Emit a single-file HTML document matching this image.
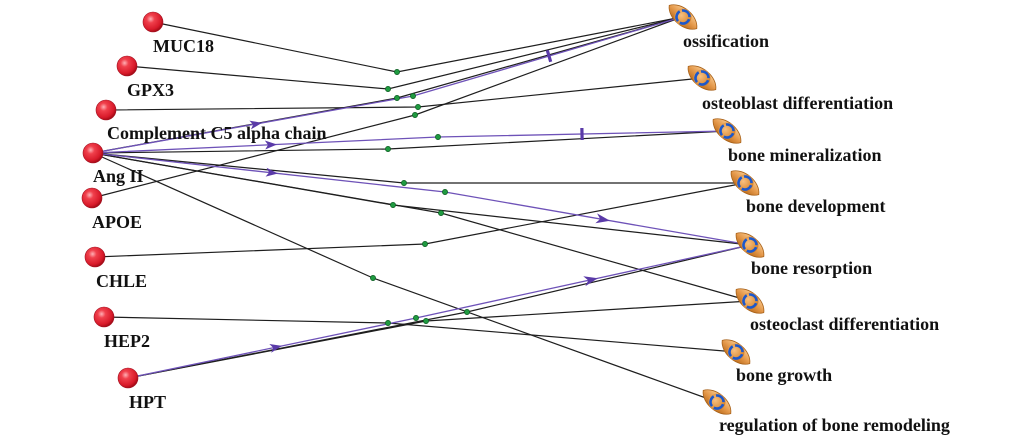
<!DOCTYPE html>
<html><head><meta charset="utf-8"><style>
html,body{margin:0;padding:0;background:#fff;}
svg{display:block;}
text{font-family:"Liberation Serif",serif;font-weight:bold;font-size:18px;fill:#111;}
</style></head><body>
<svg width="1033" height="443" viewBox="0 0 1033 443" xmlns="http://www.w3.org/2000/svg">
<defs>
<radialGradient id="sph" cx="38%" cy="35%" r="65%">
<stop offset="0" stop-color="#ffb0b5"/>
<stop offset="0.3" stop-color="#f0404c"/>
<stop offset="0.8" stop-color="#d81a2a"/>
<stop offset="1" stop-color="#a80c18"/>
</radialGradient>
<linearGradient id="spin" x1="0" y1="0" x2="0" y2="1">
<stop offset="0" stop-color="#f8c88c"/>
<stop offset="0.5" stop-color="#e4984a"/>
<stop offset="1" stop-color="#bc6c1c"/>
</linearGradient>
<radialGradient id="core" cx="40%" cy="40%" r="60%">
<stop offset="0" stop-color="#f8c080"/>
<stop offset="1" stop-color="#d8852c"/>
</radialGradient>
<g id="proc">
<path d="M-18,0 C-11,-11 11,-11 18,0 C11,11 -11,11 -18,0Z" transform="rotate(40)" fill="url(#spin)" stroke="#a8621a" stroke-width="0.8"/>
<circle r="8.5" fill="url(#core)"/>
<circle r="6.5" fill="none" stroke="#1c58cc" stroke-width="2.6" stroke-dasharray="11.2 2.4" transform="rotate(20)"/>
</g>
<g id="ball"><circle r="10" fill="url(#sph)" stroke="#a01020" stroke-width="0.6"/></g>
</defs>

<!-- black edges -->
<g fill="none" stroke="#1e1e1e" stroke-width="1.2">
<polyline points="153,22 397,72 682,17"/>
<polyline points="127,66 388,89 682,17"/>
<polyline points="106,110 418,107 702,78"/>
<polyline points="92,198 415,115 682,17"/>
<polyline points="93,153 397,98 682,17"/>
<polyline points="93,153 388,149 727,131"/>
<polyline points="93,153 404,183 745,183"/>
<polyline points="93,153 393,205 750,245"/>
<polyline points="93,153 441,213 750,301"/>
<polyline points="93,153 373,278 717,402"/>
<polyline points="95,257 425,244 745,183"/>
<polyline points="104,317 388,323 736,352"/>
<polyline points="128,378 426,321 750,301"/>
<polyline points="128,378 467,312 750,245"/>
</g>
<!-- purple edges -->
<g fill="none" stroke="#6e52b8" stroke-width="1.3">
<polyline points="93,153 413,96 682,17"/>
<polyline points="93,153 438,137 727,131"/>
<polyline points="93,153 445,192 750,245"/>
<polyline points="128,378 416,318 750,245"/>
</g>
<!-- arrowheads -->
<g fill="#5a3aa8">
<path transform="translate(262,122.9) rotate(-10.1)" d="M0,0 L-12,-4.5 L-9,0 L-12,4.5Z"/>
<path transform="translate(277,144.5) rotate(-2.66)" d="M0,0 L-12,-4.5 L-9,0 L-12,4.5Z"/>
<path transform="translate(278,173.5) rotate(6.32)" d="M0,0 L-12,-4.5 L-9,0 L-12,4.5Z"/>
<path transform="translate(610,220.7) rotate(9.86)" d="M0,0 L-14,-5 L-10,0 L-14,5Z"/>
<path transform="translate(282,345.9) rotate(-11.77)" d="M0,0 L-12,-4.5 L-9,0 L-12,4.5Z"/>
<path transform="translate(598,278.2) rotate(-12.33)" d="M0,0 L-14,-5 L-10,0 L-14,5Z"/>
<rect transform="translate(549,56.1) rotate(-16.37)" x="-1.6" y="-6" width="3.2" height="12"/>
<rect transform="translate(582,134) rotate(-1.19)" x="-1.6" y="-6" width="3.2" height="12"/>
</g>
<!-- control dots -->
<g fill="#1f9a40" stroke="#0b5a20" stroke-width="0.7">
<circle cx="397" cy="72" r="2.6"/>
<circle cx="388" cy="89" r="2.6"/>
<circle cx="418" cy="107" r="2.6"/>
<circle cx="415" cy="115" r="2.6"/>
<circle cx="397" cy="98" r="2.6"/>
<circle cx="413" cy="96" r="2.6"/>
<circle cx="388" cy="149" r="2.6"/>
<circle cx="438" cy="137" r="2.6"/>
<circle cx="404" cy="183" r="2.6"/>
<circle cx="445" cy="192" r="2.6"/>
<circle cx="393" cy="205" r="2.6"/>
<circle cx="441" cy="213" r="2.6"/>
<circle cx="373" cy="278" r="2.6"/>
<circle cx="425" cy="244" r="2.6"/>
<circle cx="388" cy="323" r="2.6"/>
<circle cx="416" cy="318" r="2.6"/>
<circle cx="426" cy="321" r="2.6"/>
<circle cx="467" cy="312" r="2.6"/>
</g>
<!-- left nodes -->
<use href="#ball" x="153" y="22"/>
<use href="#ball" x="127" y="66"/>
<use href="#ball" x="106" y="110"/>
<use href="#ball" x="93" y="153"/>
<use href="#ball" x="92" y="198"/>
<use href="#ball" x="95" y="257"/>
<use href="#ball" x="104" y="317"/>
<use href="#ball" x="128" y="378"/>
<!-- right nodes -->
<use href="#proc" x="683" y="17"/>
<use href="#proc" x="702" y="78"/>
<use href="#proc" x="727" y="131"/>
<use href="#proc" x="745" y="183"/>
<use href="#proc" x="750" y="245"/>
<use href="#proc" x="750" y="301"/>
<use href="#proc" x="736" y="352"/>
<use href="#proc" x="717" y="402"/>
<!-- labels -->
<text x="153" y="52">MUC18</text>
<text x="127" y="96">GPX3</text>
<text x="107" y="139">Complement C5 alpha chain</text>
<text x="93" y="182">Ang II</text>
<text x="92" y="228">APOE</text>
<text x="96" y="287">CHLE</text>
<text x="104" y="347">HEP2</text>
<text x="129" y="408">HPT</text>
<text x="683" y="47">ossification</text>
<text x="702" y="109">osteoblast differentiation</text>
<text x="728" y="161">bone mineralization</text>
<text x="746" y="212">bone development</text>
<text x="751" y="274">bone resorption</text>
<text x="750" y="330">osteoclast differentiation</text>
<text x="736" y="381">bone growth</text>
<text x="719" y="431">regulation of bone remodeling</text>
</svg>
</body></html>
